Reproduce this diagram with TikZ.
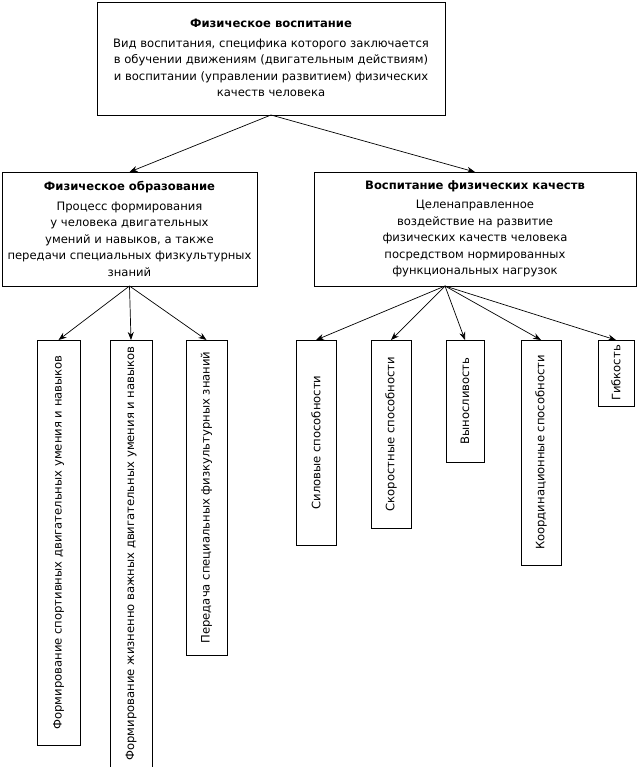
\documentclass[tikz,border=0pt]{standalone}
\usepackage{fontspec}
\setmainfont{DejaVu Sans}
\usetikzlibrary{arrows.meta}
\begin{document}
\begin{tikzpicture}[x=1pt,y=-1pt,
 box/.style={draw,line width=0.8pt,inner sep=0pt},
 txt/.style={align=center,font=\fontsize{11.6}{16.5}\selectfont},
 vt/.style={rotate=90,font=\fontsize{11.6}{13}\selectfont},
 arr/.style={-{Stealth[length=8pt,width=6pt]},line width=0.7pt}]
\useasboundingbox (0,0) rectangle (637,767);
\draw[box] (97,2) rectangle (445,115);
\node[txt] (t) at (271,58) {\textbf{Физическое воспитание}\\[3pt]Вид воспитания, специфика которого заключается\\в обучении движениям (двигательным действиям)\\и воспитании (управлении развитием) физических\\качеств человека};
\draw[box] (2,172) rectangle (257,286);
\node[txt] (l) at (129.5,229) {\textbf{Физическое образование}\\[3pt]Процесс формирования\\у человека двигательных\\умений и навыков, а также\\передачи специальных физкультурных\\знаний};
\draw[box] (314,172) rectangle (636,286);
\node[txt] (r) at (475,229) {\textbf{Воспитание физических качеств}\\[3pt]Целенаправленное\\воздействие на развитие\\физических качеств человека\\посредством нормированных\\функциональных нагрузок};
\coordinate (tb) at (271,115);
\coordinate (lt) at (129.5,172);
\coordinate (rt) at (475,172);
\coordinate (lb) at (129.5,286);
\coordinate (rb) at (445,286);
\draw[arr] (tb) -- (lt);
\draw[arr] (tb) -- (rt);
\foreach \n/\xa/\xb/\yb/\t in {
 b1/37/80/745/{Формирование спортивных двигательных умения и навыков},
 b2/110/152/767/{Формирование жизненно важных двигательных умения и навыков},
 b3/186/227/655/{Передача специальных физкультурных знаний}}{
 \draw[box] (\xa,340) rectangle (\xb,\yb);
 \node[vt] (\n) at ({(\xa+\xb)/2},{(340+\yb)/2}) {\t};
 \coordinate (\n t) at ({(\xa+\xb)/2},340);
 \draw[arr] (lb) -- (\n t);}
\foreach \n/\xa/\xb/\yb/\t in {
 b4/296/336/545/{Силовые способности},
 b5/371/411/528/{Скоростные способности},
 b6/446/484/462/{Выносливость},
 b7/521/561/565/{Координационные способности},
 b8/598/634/406/{Гибкость}}{
 \draw[box] (\xa,340) rectangle (\xb,\yb);
 \node[vt] (\n) at ({(\xa+\xb)/2},{(340+\yb)/2}) {\t};
 \coordinate (\n t) at ({(\xa+\xb)/2},340);
 \draw[arr] (rb) -- (\n t);}
\end{tikzpicture}
\end{document}
